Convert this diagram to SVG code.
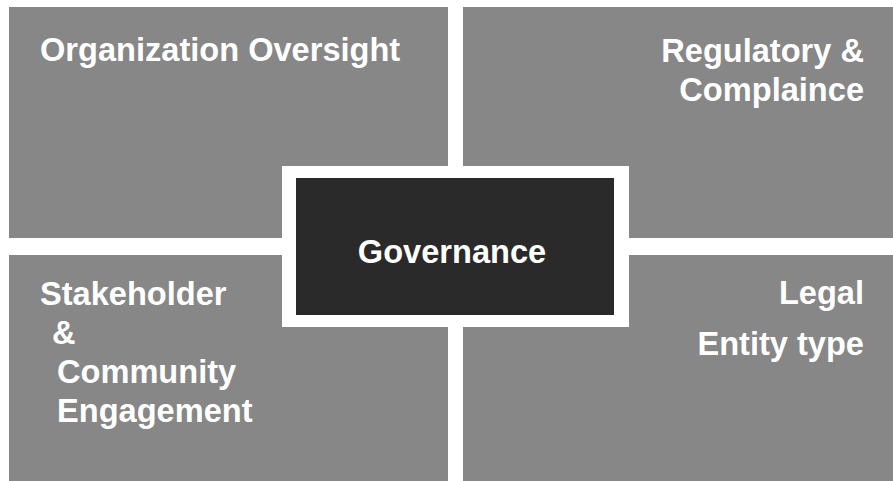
<svg xmlns="http://www.w3.org/2000/svg" width="893" height="481" viewBox="0 0 893 481">
  <style>
    .quad { fill: #878787; }
    .core { fill: #2a2a2a; }
    .frame { fill: #ffffff; }
    .lbl { font-family: "Liberation Sans", Arial, sans-serif; font-weight: bold; font-size: 32.6px; fill: #ffffff; }
    .end { text-anchor: end; }
    .mid { text-anchor: middle; }
  </style>
  <rect width="893" height="481" fill="#ffffff"/>

  <g id="organization-oversight">
    <rect class="quad" x="9" y="7" width="439" height="231"/>
    <text class="lbl" x="40" y="61">Organization Oversight</text>
  </g>

  <g id="regulatory-compliance">
    <rect class="quad" x="463" y="7" width="430" height="231"/>
    <text class="lbl end" x="864" y="62">Regulatory &amp;</text>
    <text class="lbl end" x="864" y="101">Complaince</text>
  </g>

  <g id="stakeholder-engagement">
    <rect class="quad" x="9" y="255" width="439" height="226"/>
    <text class="lbl" x="40" y="305">Stakeholder</text>
    <text class="lbl" x="52" y="344">&amp;</text>
    <text class="lbl" x="57" y="383">Community</text>
    <text class="lbl" x="57" y="422">Engagement</text>
  </g>

  <g id="legal-entity">
    <rect class="quad" x="463" y="255" width="430" height="226"/>
    <text class="lbl end" x="864" y="304">Legal</text>
    <text class="lbl end" x="864" y="355">Entity type</text>
  </g>

  <g id="governance">
    <rect class="frame" x="282" y="166" width="347" height="161"/>
    <rect class="core" x="296" y="178" width="318" height="137"/>
    <text class="lbl mid" x="452" y="263">Governance</text>
  </g>

  <g id="connectors"></g>
</svg>
